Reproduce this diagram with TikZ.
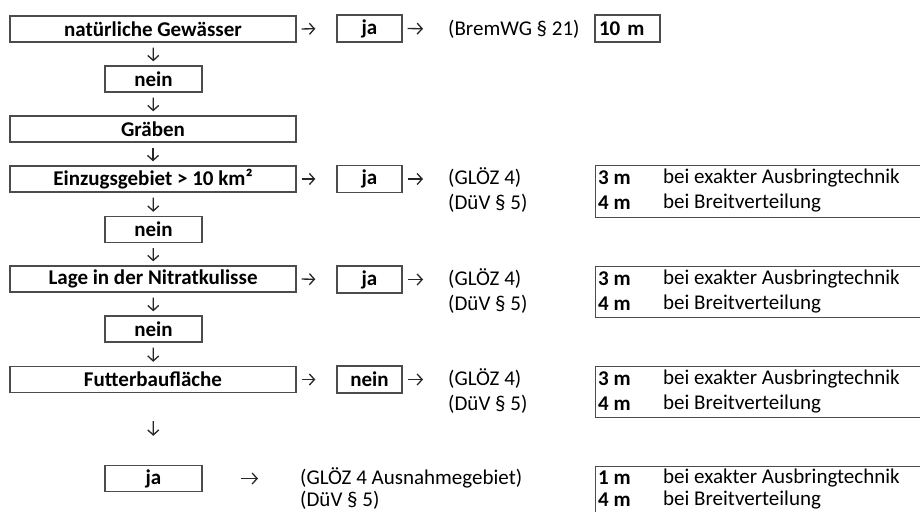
\documentclass[tikz,border=0pt]{standalone}
\usepackage{fontspec}
\setmainfont{Carlito}
\usetikzlibrary{arrows.meta}
\begin{document}
\begin{tikzpicture}[x=1pt,y=-1pt,
  every node/.style={font=\fontsize{21}{24}\selectfont, inner sep=0pt},
  boxbase/.style={draw=black!70, line width=1.4pt, minimum height=26pt, font=\fontsize{21}{24}\selectfont\bfseries},
  lbox/.style={boxbase, minimum width=286pt},
  sbox/.style={boxbase, minimum width=97pt},
  jbox/.style={boxbase, minimum width=65pt, minimum height=27pt},
  mbox/.style={boxbase, minimum height=27pt, text width=57pt, inner xsep=4pt},
  resbox/.style={draw=black!70, line width=1.4pt, minimum width=340pt, anchor=north west},
  lawtxt/.style={anchor=west},
  valtxt/.style={anchor=west, font=\fontsize{21}{24}\selectfont\bfseries},
  arr/.style={-{Straight Barb[length=5pt,width=11pt,line width=1.3pt]}, line width=1.3pt, draw=black!85},
  vdown/.style={arr, shorten <=5pt, shorten >=4pt}
]
\useasboundingbox (0,0) rectangle (920,511);
\clip (0,0) rectangle (920,511);

% left column
\node[lbox] (nat) at (153,29) {natürliche Gewässer};
\node[sbox] (nein1) at (153.5,79) {nein};
\node[lbox] (grab) at (153,129) {Gräben};
\node[lbox] (einz) at (153,179) {Einzugsgebiet > 10 km²};
\node[sbox] (nein2) at (153.5,229.5) {nein};
\node[lbox] (lage) at (153,279) {Lage in der Nitratkulisse};
\node[sbox] (nein3) at (153.5,329) {nein};
\node[lbox] (fut) at (153,379.5) {Futterbaufläche};
\node[sbox] (ja5) at (153.5,478.5) {ja};

% middle column
\node[jbox] (ja1) at (369.5,28.5) {ja};
\node[jbox] (ja2) at (369.5,179) {ja};
\node[jbox] (ja3) at (369.5,279.5) {ja};
\node[jbox] (nein4) at (369.5,379.5) {nein};

% law texts
\node[lawtxt] (brem) at (448,29) {(BremWG § 21)};
\node[lawtxt] (gl1a) at (448,178) {(GLÖZ 4)};
\node[lawtxt] (gl1b) at (448,203) {(DüV § 5)};
\node[lawtxt] (gl2a) at (448,279) {(GLÖZ 4)};
\node[lawtxt] (gl2b) at (448,304) {(DüV § 5)};
\node[lawtxt] (gl3a) at (448,379) {(GLÖZ 4)};
\node[lawtxt] (gl3b) at (448,404) {(DüV § 5)};
\node[lawtxt] (gl4a) at (300,478) {(GLÖZ 4 Ausnahmegebiet)};
\node[lawtxt] (gl4b) at (300,500) {(DüV § 5)};

% result boxes
\node[mbox] (m10) at (627.5,28.5) {10 m};

\node[resbox, minimum height=52pt] (r1) at (595,165) {};
\node[valtxt] (r1a) at (598,178) {3 m};
\node[lawtxt] (r1b) at (663,178) {bei exakter Ausbringtechnik};
\node[valtxt] (r1c) at (598,203) {4 m};
\node[lawtxt] (r1d) at (663,203) {bei Breitverteilung};

\node[resbox, minimum height=51pt] (r2) at (595,266) {};
\node[valtxt] (r2a) at (598,279) {3 m};
\node[lawtxt] (r2b) at (663,279) {bei exakter Ausbringtechnik};
\node[valtxt] (r2c) at (598,304) {4 m};
\node[lawtxt] (r2d) at (663,304) {bei Breitverteilung};

\node[resbox, minimum height=51pt] (r3) at (595,366) {};
\node[valtxt] (r3a) at (598,379) {3 m};
\node[lawtxt] (r3b) at (663,379) {bei exakter Ausbringtechnik};
\node[valtxt] (r3c) at (598,404) {4 m};
\node[lawtxt] (r3d) at (663,404) {bei Breitverteilung};

\node[resbox, minimum height=60pt] (r4) at (595,466) {};
\node[valtxt] (r4a) at (598,478) {1 m};
\node[lawtxt] (r4b) at (663,478) {bei exakter Ausbringtechnik};
\node[valtxt] (r4c) at (598,500) {4 m};
\node[lawtxt] (r4d) at (663,500) {bei Breitverteilung};

% vertical arrows
\draw[vdown] (nat) -- (nein1);
\draw[vdown] (nein1) -- (grab);
\draw[vdown] (grab) -- (einz);
\draw[vdown] (einz) -- (nein2);
\draw[vdown] (nein2) -- (lage);
\draw[vdown] (lage) -- (nein3);
\draw[vdown] (nein3) -- (fut);
\draw[arr, shorten <=28pt, shorten >=29pt] (fut.south) -- (ja5.north);

% horizontal arrows
\draw[arr, shorten <=5pt, shorten >=21pt] (nat.east) -- (ja1.west);
\draw[arr, shorten <=5pt, shorten >=25pt] (ja1.east) -- (brem.west);
\draw[arr, shorten <=5pt, shorten >=21pt] (einz.east) -- (ja2.west);
\draw[arr, shorten <=5pt, shorten >=25pt] (ja2.east) -- (ja2.east -| gl1a.west);
\draw[arr, shorten <=5pt, shorten >=21pt] (lage.east) -- (ja3.west);
\draw[arr, shorten <=5pt, shorten >=25pt] (ja3.east) -- (ja3.east -| gl2a.west);
\draw[arr, shorten <=5pt, shorten >=21pt] (fut.east) -- (nein4.west);
\draw[arr, shorten <=5pt, shorten >=25pt] (nein4.east) -- (nein4.east -| gl3a.west);
\draw[arr, shorten <=38pt, shorten >=42pt] (ja5.east) -- (ja5.east -| gl4a.west);
\end{tikzpicture}
\end{document}
